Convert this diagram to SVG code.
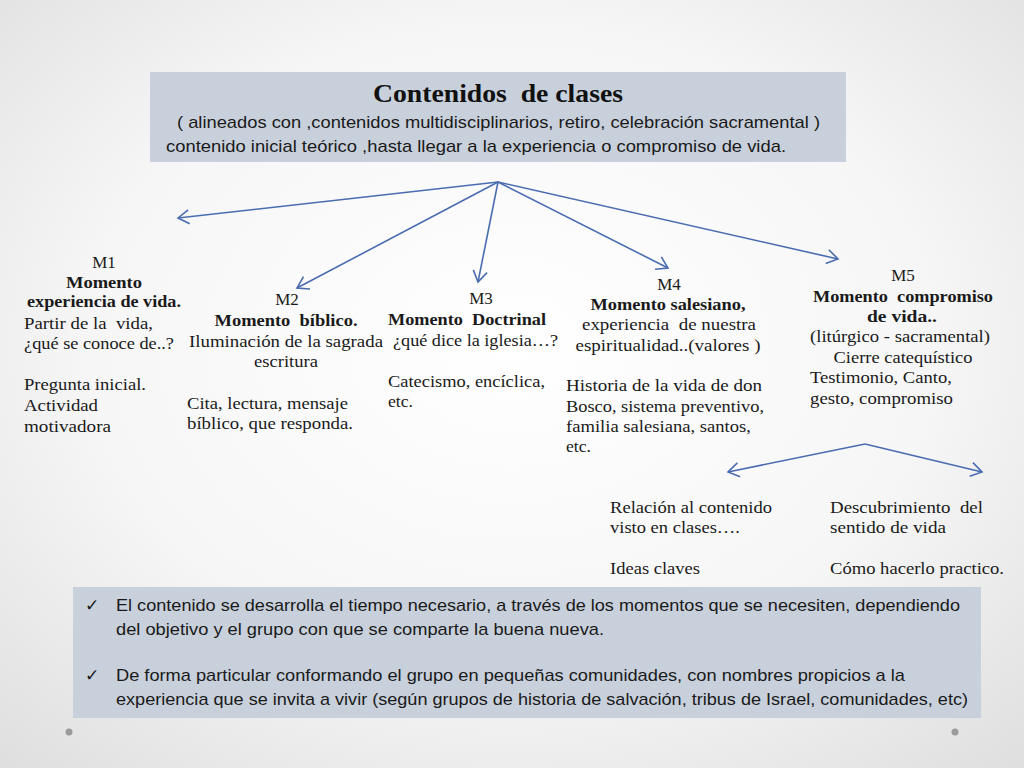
<svg xmlns="http://www.w3.org/2000/svg" width="1024" height="768" viewBox="0 0 1024 768" xml:space="preserve">
<defs>
<radialGradient id="bg" cx="0.5" cy="0.45" r="0.75">
<stop offset="0" stop-color="#ffffff"/>
<stop offset="0.55" stop-color="#f6f6f6"/>
<stop offset="1" stop-color="#dedede"/>
</radialGradient>
<marker id="arr" markerUnits="userSpaceOnUse" markerWidth="20" markerHeight="20" refX="12" refY="10" orient="auto">
<path d="M1,3 L12,10 L1,17" fill="none" stroke="#4a6cb0" stroke-width="1.6"/>
</marker>
<style>
.box{fill:#c8d0db}
.con{stroke:#4a6cb0;stroke-width:1.6;fill:none}
text{white-space:pre}
.s{font-family:"Liberation Serif",serif;font-size:17px;fill:#1a1a1a}
.b{font-weight:bold}
.m{text-anchor:middle}
.c{font-family:"Liberation Sans",sans-serif;font-size:17px;fill:#1a1a1a}
.t{font-family:"Liberation Serif",serif;font-size:26px;font-weight:bold;fill:#111;text-anchor:middle}
</style>
</defs>
<rect width="1024" height="768" fill="url(#bg)"/>
<circle cx="69" cy="732" r="3.5" fill="#9a9a9a"/>
<circle cx="955" cy="732" r="3.5" fill="#9a9a9a"/>

<g id="header">
<rect class="box" x="150" y="72" width="696" height="90"/>
<text class="t" x="498" y="102" textLength="250" lengthAdjust="spacingAndGlyphs">Contenidos  de clases</text>
<text class="c" x="177" y="128" textLength="643" lengthAdjust="spacingAndGlyphs">( alineados con ,contenidos multidisciplinarios, retiro, celebración sacramental )</text>
<text class="c" x="166" y="152" textLength="620" lengthAdjust="spacingAndGlyphs">contenido inicial teórico ,hasta llegar a la experiencia o compromiso de vida.</text>
</g>

<g id="connectors">
<line class="con" x1="498" y1="182" x2="178" y2="218" marker-end="url(#arr)"/>
<line class="con" x1="498" y1="182" x2="297" y2="288" marker-end="url(#arr)"/>
<line class="con" x1="498" y1="182" x2="478" y2="282" marker-end="url(#arr)"/>
<line class="con" x1="498" y1="182" x2="668" y2="268" marker-end="url(#arr)"/>
<line class="con" x1="498" y1="182" x2="838" y2="259" marker-end="url(#arr)"/>
<line class="con" x1="865" y1="444" x2="728" y2="472" marker-end="url(#arr)"/>
<line class="con" x1="865" y1="444" x2="982" y2="472" marker-end="url(#arr)"/>
</g>

<g id="m1">
<text class="s m" x="104" y="268">M1</text>
<text class="s b m" x="104" y="288" textLength="76" lengthAdjust="spacingAndGlyphs">Momento</text>
<text class="s b m" x="104" y="307" textLength="154" lengthAdjust="spacingAndGlyphs">experiencia de vida.</text>
<text class="s" x="24" y="329" textLength="129" lengthAdjust="spacingAndGlyphs">Partir de la  vida,</text>
<text class="s" x="24" y="349" textLength="150" lengthAdjust="spacingAndGlyphs">¿qué se conoce de..?</text>
<text class="s" x="24" y="390" textLength="122" lengthAdjust="spacingAndGlyphs">Pregunta inicial.</text>
<text class="s" x="24" y="411" textLength="74" lengthAdjust="spacingAndGlyphs">Actividad</text>
<text class="s" x="24" y="432" textLength="87" lengthAdjust="spacingAndGlyphs">motivadora</text>
</g>

<g id="m2">
<text class="s m" x="287" y="305">M2</text>
<text class="s b m" x="286" y="326" textLength="143" lengthAdjust="spacingAndGlyphs">Momento  bíblico.</text>
<text class="s m" x="286" y="347" textLength="194" lengthAdjust="spacingAndGlyphs">Iluminación de la sagrada</text>
<text class="s m" x="286" y="367" textLength="64" lengthAdjust="spacingAndGlyphs">escritura</text>
<text class="s" x="187" y="409" textLength="161" lengthAdjust="spacingAndGlyphs">Cita, lectura, mensaje</text>
<text class="s" x="187" y="429" textLength="166" lengthAdjust="spacingAndGlyphs">bíblico, que responda.</text>
</g>

<g id="m3">
<text class="s m" x="481" y="304">M3</text>
<text class="s b m" x="467" y="325" textLength="158" lengthAdjust="spacingAndGlyphs">Momento  Doctrinal</text>
<text class="s" x="393" y="346" textLength="165" lengthAdjust="spacingAndGlyphs">¿qué dice la iglesia…?</text>
<text class="s" x="388" y="387" textLength="157" lengthAdjust="spacingAndGlyphs">Catecismo, encíclica,</text>
<text class="s" x="388" y="407" textLength="25" lengthAdjust="spacingAndGlyphs">etc.</text>
</g>

<g id="m4">
<text class="s m" x="669" y="290">M4</text>
<text class="s b m" x="668" y="310" textLength="155" lengthAdjust="spacingAndGlyphs">Momento salesiano,</text>
<text class="s m" x="669" y="330" textLength="174" lengthAdjust="spacingAndGlyphs">experiencia  de nuestra</text>
<text class="s m" x="668" y="351" textLength="185" lengthAdjust="spacingAndGlyphs">espiritualidad..(valores )</text>
<text class="s" x="566" y="391" textLength="196" lengthAdjust="spacingAndGlyphs">Historia de la vida de don</text>
<text class="s" x="566" y="412" textLength="198" lengthAdjust="spacingAndGlyphs">Bosco, sistema preventivo,</text>
<text class="s" x="566" y="432" textLength="185" lengthAdjust="spacingAndGlyphs">familia salesiana, santos,</text>
<text class="s" x="566" y="452" textLength="25" lengthAdjust="spacingAndGlyphs">etc.</text>
</g>

<g id="m5">
<text class="s m" x="903" y="281">M5</text>
<text class="s b m" x="903" y="302" textLength="180" lengthAdjust="spacingAndGlyphs">Momento  compromiso</text>
<text class="s b m" x="902" y="322" textLength="70" lengthAdjust="spacingAndGlyphs">de vida..</text>
<text class="s m" x="900" y="342" textLength="180" lengthAdjust="spacingAndGlyphs">(litúrgico - sacramental)</text>
<text class="s m" x="903" y="363" textLength="139" lengthAdjust="spacingAndGlyphs">Cierre catequístico</text>
<text class="s" x="810" y="383" textLength="142" lengthAdjust="spacingAndGlyphs">Testimonio, Canto,</text>
<text class="s" x="810" y="404" textLength="143" lengthAdjust="spacingAndGlyphs">gesto, compromiso</text>
</g>

<g id="sub1">
<text class="s" x="610" y="513" textLength="162" lengthAdjust="spacingAndGlyphs">Relación al contenido</text>
<text class="s" x="610" y="533" textLength="130" lengthAdjust="spacingAndGlyphs">visto en clases….</text>
<text class="s" x="610" y="574" textLength="90" lengthAdjust="spacingAndGlyphs">Ideas claves</text>
</g>

<g id="sub2">
<text class="s" x="830" y="513" textLength="153" lengthAdjust="spacingAndGlyphs">Descubrimiento  del</text>
<text class="s" x="830" y="533" textLength="116" lengthAdjust="spacingAndGlyphs">sentido de vida</text>
<text class="s" x="830" y="574" textLength="174" lengthAdjust="spacingAndGlyphs">Cómo hacerlo practico.</text>
</g>

<g id="notes">
<rect class="box" x="73" y="587" width="908" height="131"/>
<text class="c" x="85" y="611">✓</text>
<text class="c" x="116" y="611" textLength="844" lengthAdjust="spacingAndGlyphs">El contenido se desarrolla el tiempo necesario, a través de los momentos que se necesiten, dependiendo</text>
<text class="c" x="116" y="635" textLength="488" lengthAdjust="spacingAndGlyphs">del objetivo y el grupo con que se comparte la buena nueva.</text>
<text class="c" x="85" y="681">✓</text>
<text class="c" x="116" y="681" textLength="789" lengthAdjust="spacingAndGlyphs">De forma particular conformando el grupo en pequeñas comunidades, con nombres propicios a la</text>
<text class="c" x="116" y="705" textLength="852" lengthAdjust="spacingAndGlyphs">experiencia que se invita a vivir (según grupos de historia de salvación, tribus de Israel, comunidades, etc)</text>
</g>
</svg>
